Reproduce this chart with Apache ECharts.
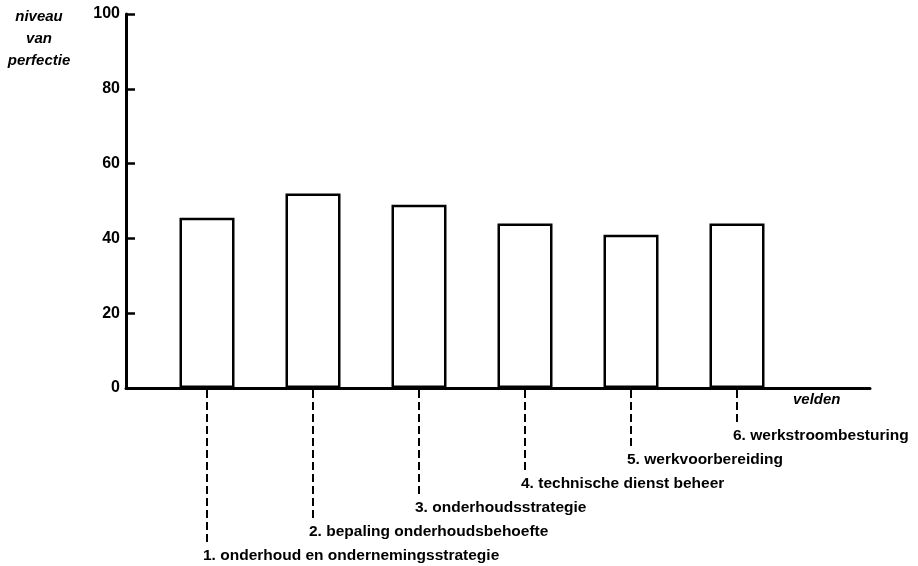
<!DOCTYPE html>
<html>
<head>
<meta charset="utf-8">
<script src="https://cdn.jsdelivr.net/npm/echarts@6/dist/echarts.min.js"></script>
<style>
  html, body { margin: 0; padding: 0; background: #fff; }
  #chart { width: 918px; height: 566px; }
</style>
</head>
<body>
<div id="chart"></div>
<script>
// ---- data ----
const categories = [
  '1. onderhoud en ondernemingsstrategie',
  '2. bepaling onderhoudsbehoefte',
  '3. onderhoudsstrategie',
  '4. technische dienst beheer',
  '5. werkvoorbereiding',
  '6. werkstroombesturing'
];
const values = [45.5, 52, 49, 44, 41, 44];
const yMin = 0;
const yMax = 100;
const yInterval = 20;
const yAxisTitle = 'niveau\nvan\nperfectie';
const xAxisTitle = 'velden';

// ---- styling ----
const FONT = '"Liberation Sans", Arial, Helvetica, sans-serif';
const INK = '#000';
const ROW0 = 168;   // offset below the axis of the lowest label row
const ROW_STEP = 24; // vertical step between label rows

const chart = echarts.init(document.getElementById('chart'), null, { renderer: 'canvas' });

const option = {
  animation: false,
  backgroundColor: '#fff',
  grid: [
    { left: 154, width: 636, top: 14, height: 374 },
    { left: 126, width: 744, top: 14, height: 374 }
  ],
  xAxis: [
    {
      type: 'category', gridIndex: 0, data: categories,
      axisLine: { show: false }, axisTick: { show: false },
      axisLabel: { show: false }, splitLine: { show: false }
    },
    {
      type: 'value', gridIndex: 1, min: 0, max: 1,
      axisLine: { show: true, lineStyle: { color: INK, width: 3 } },
      axisTick: { show: false }, axisLabel: { show: false }, splitLine: { show: false }
    }
  ],
  yAxis: [
    { type: 'value', gridIndex: 0, min: yMin, max: yMax, interval: yInterval, show: false },
    {
      type: 'value', gridIndex: 1, min: yMin, max: yMax, interval: yInterval,
      axisLine: { show: true, lineStyle: { color: INK, width: 3 } },
      axisTick: { show: true, inside: true, length: 9, lineStyle: { color: INK, width: 2.5 } },
      axisLabel: { color: INK, fontFamily: FONT, fontWeight: 'bold', fontSize: 16, margin: 6 },
      splitLine: { show: false }
    }
  ],
  series: [
    {
      type: 'bar', xAxisIndex: 0, yAxisIndex: 0,
      data: values, barWidth: 55,
      itemStyle: { color: '#fff', borderColor: INK, borderWidth: 2.5 },
      z: 1
    },
    {
      type: 'custom', xAxisIndex: 0, yAxisIndex: 0, clip: false, z: 3,
      data: categories.map((c, i) => [i, 0]),
      renderItem: function (params, api) {
        const i = params.dataIndex;
        const p = api.coord([api.value(0), 0]);
        const labelY = p[1] + ROW0 - ROW_STEP * i;
        return {
          type: 'group',
          children: [
            {
              type: 'line',
              shape: { x1: p[0], y1: p[1] + 2, x2: p[0], y2: labelY - 11 },
              style: { stroke: INK, lineWidth: 2, lineDash: [8, 4] }
            },
            {
              type: 'text',
              x: p[0] - 4, y: labelY,
              style: {
                text: categories[i], fill: INK,
                fontFamily: FONT, fontWeight: 'bold', fontSize: 15.5,
                align: 'left', verticalAlign: 'middle',
                textAlign: 'left', textVerticalAlign: 'middle'
              }
            }
          ]
        };
      }
    }
  ],
  graphic: [
    {
      type: 'text', x: 39, y: 6,
      style: {
        text: yAxisTitle, fill: INK, fontFamily: FONT, fontStyle: 'italic',
        fontWeight: 'bold', fontSize: 15, lineHeight: 22,
        align: 'center', verticalAlign: 'top', textAlign: 'center', textVerticalAlign: 'top'
      }
    },
    {
      type: 'text', x: 793, y: 400,
      style: {
        text: xAxisTitle, fill: INK, fontFamily: FONT, fontStyle: 'italic',
        fontWeight: 'bold', fontSize: 15,
        align: 'left', verticalAlign: 'middle', textAlign: 'left', textVerticalAlign: 'middle'
      }
    }
  ]
};

chart.setOption(option);
</script>
</body>
</html>
